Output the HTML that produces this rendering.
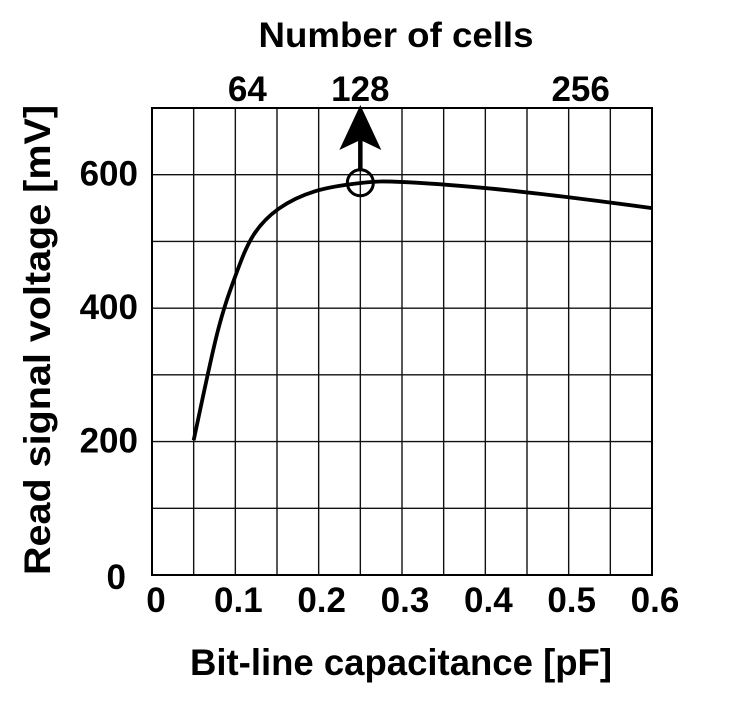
<!DOCTYPE html>
<html><head><meta charset="utf-8"><style>
html,body{margin:0;padding:0;background:#fff;}
svg{display:block;}
text{font-family:"Liberation Sans",Arial,sans-serif;font-weight:bold;fill:#000;}
</style></head><body>
<svg id="chart" width="729" height="702" viewBox="0 0 729 702" xmlns="http://www.w3.org/2000/svg">
<g id="grid"></g>
<g id="axes"></g>
<g id="series"></g>
<text x="396" y="47" text-anchor="middle" font-size="35" textLength="275" lengthAdjust="spacingAndGlyphs">Number of cells</text>
<text x="401" y="675" text-anchor="middle" font-size="37" textLength="422" lengthAdjust="spacingAndGlyphs">Bit-line capacitance [pF]</text>
<text transform="translate(50,340) rotate(-90)" text-anchor="middle" font-size="37" textLength="470" lengthAdjust="spacingAndGlyphs">Read signal voltage [mV]</text>
</svg>
<script>
const capValues = [0.05, 0.078, 0.1, 0.122, 0.152, 0.195, 0.253, 0.302, 0.4, 0.495, 0.6];
const voltValues = [202, 361, 448, 510, 549, 575, 588, 589, 580, 567, 550];
const xTicks = [0, 0.1, 0.2, 0.3, 0.4, 0.5, 0.6];
const xTickLabels = ["0", "0.1", "0.2", "0.3", "0.4", "0.5", "0.6"];
const yTicks = [0, 200, 400, 600];
const yTickLabels = ["0", "200", "400", "600"];
const cellTicks = [0.1, 0.25, 0.5];
const cellLabels = ["64", "128", "256"];
const markerCap = [0.25];
const markerVolt = [588];

const L=152,R=652,T=108,B=575;
const X=v=>L+(v/0.6)*(R-L);
const Y=v=>B-(v/700)*(B-T);
const NS="http://www.w3.org/2000/svg";
function mk(tag,parent){const e=document.createElementNS(NS,tag);document.getElementById(parent).appendChild(e);return e;}

for(let i=1;i<12;i++){
  const l=mk('line','grid');
  
  
  l.setAttribute('x1',X(i*0.05));l.setAttribute('x2',X(i*0.05));l.setAttribute('y1',T);l.setAttribute('y2',B);
  l.setAttribute('stroke','#111');l.setAttribute('stroke-width','1.4');
}
for(let i=1;i<7;i++){
  const l=mk('line','grid');
  
  
  l.setAttribute('x1',L);l.setAttribute('x2',R);l.setAttribute('y1',Y(i*100));l.setAttribute('y2',Y(i*100));
  l.setAttribute('stroke','#111');l.setAttribute('stroke-width','1.4');
}
const fr=mk('rect','axes');


fr.setAttribute('x',L);fr.setAttribute('y',T);fr.setAttribute('width',R-L);fr.setAttribute('height',B-T);
fr.setAttribute('fill','none');fr.setAttribute('stroke','#000');fr.setAttribute('stroke-width','2');

xTicks.forEach((v,i)=>{
  const t=mk('text','axes');
  
  
  t.setAttribute('x',X(v)+(v===0?4:3));t.setAttribute('y',612);t.setAttribute('text-anchor','middle');t.setAttribute('font-size','35');
  t.textContent=xTickLabels[i];
});
yTicks.forEach((v,i)=>{
  const t=mk('text','axes');
  
  
  t.setAttribute('x',v===0?126:138);t.setAttribute('y',Y(v)+(v===0?14:11));t.setAttribute('text-anchor','end');t.setAttribute('font-size','35');
  t.textContent=yTickLabels[i];
});
cellTicks.forEach((v,i)=>{
  const t=mk('text','axes');
  
  
  t.setAttribute('x',X(v)+(i===1?0:12));t.setAttribute('y',101);t.setAttribute('text-anchor','middle');t.setAttribute('font-size','35');
  t.textContent=cellLabels[i];
});

let d='';
capValues.forEach((c,i)=>{
  const x=X(c),y=Y(voltValues[i]);
  if(i===0){d+='M'+x+','+y;}
  else{
    const x0=X(capValues[i-1]),y0=Y(voltValues[i-1]);
    const xp=i>1?X(capValues[i-2]):x0,yp=i>1?Y(voltValues[i-2]):y0;
    const xn=i<capValues.length-1?X(capValues[i+1]):x,yn=i<capValues.length-1?Y(voltValues[i+1]):y;
    const c1x=x0+(x-xp)/6,c1y=y0+(y-yp)/6,c2x=x-(xn-x0)/6,c2y=y-(yn-y0)/6;
    d+=' C'+c1x+','+c1y+' '+c2x+','+c2y+' '+x+','+y;
  }
});
const p=mk('path','series');


p.setAttribute('d',d);p.setAttribute('fill','none');p.setAttribute('stroke','#000');p.setAttribute('stroke-width','3.8');

const mx=X(markerCap[0]),my=Y(markerVolt[0]);
const ar=mk('line','series');


ar.setAttribute('x1',mx);ar.setAttribute('x2',mx);ar.setAttribute('y1',my-13);ar.setAttribute('y2',T+20);
ar.setAttribute('stroke','#000');ar.setAttribute('stroke-width','4.5');
const ah=mk('polygon','series');


ah.setAttribute('points',`${mx},${T-3} ${mx-21},${T+42} ${mx},${T+32} ${mx+21},${T+42}`);
const ci=mk('circle','series');


ci.setAttribute('cx',mx);ci.setAttribute('cy',my);ci.setAttribute('r','13');
ci.setAttribute('fill','none');ci.setAttribute('stroke','#000');ci.setAttribute('stroke-width','3');
</script>
</body></html>
